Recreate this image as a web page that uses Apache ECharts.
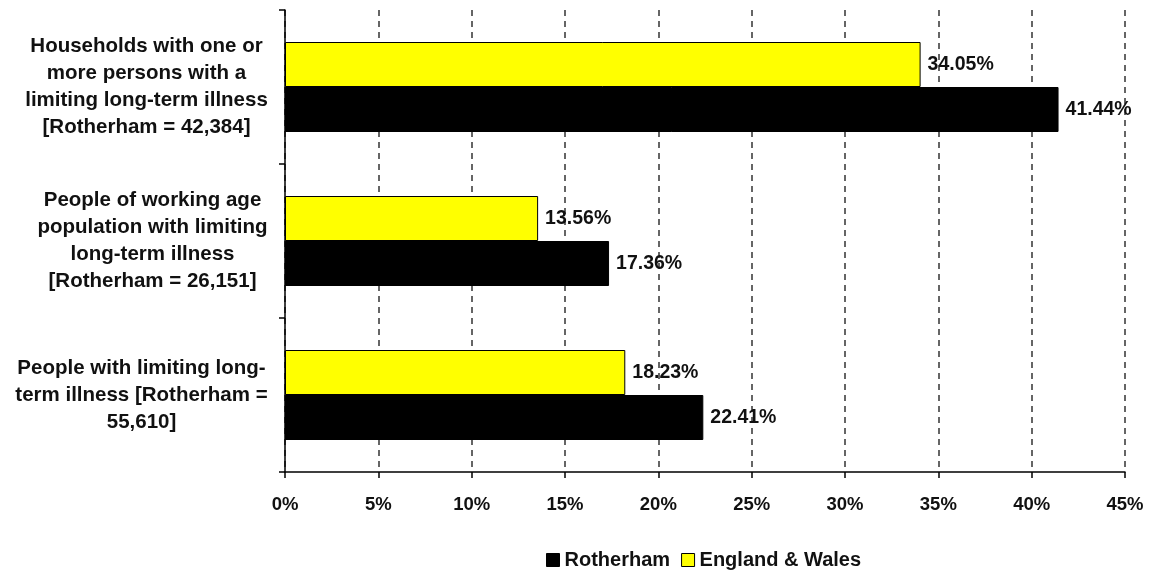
<!DOCTYPE html>
<html>
<head>
<meta charset="utf-8">
<script src="https://cdn.jsdelivr.net/npm/echarts@6/dist/echarts.min.js"></script>
<style>html,body{margin:0;padding:0;background:#fff;}#c{width:1150px;height:571px;}</style>
</head>
<body>
<div id="c"></div>
<script>
const categories = [
  "People with limiting long-\nterm illness [Rotherham =\n55,610]",
  "People of working age\npopulation with limiting\nlong-term illness\n[Rotherham = 26,151]",
  "Households with one or\nmore persons with a\nlimiting long-term illness\n[Rotherham = 42,384]"
];
const rotherham = [22.41, 17.36, 41.44];
const englandWales = [18.23, 13.56, 34.05];
const seriesNames = ["Rotherham", "England & Wales"];
const xTicks = { min: 0, max: 45, interval: 5 };

const FONT = 'Arial, "Liberation Sans", sans-serif';
const catFontSize = 20.5;
const ctx = document.createElement('canvas').getContext('2d');
ctx.font = 'bold ' + catFontSize + 'px ' + FONT;
const rich = {};
categories.forEach((c, i) => {
  const w = Math.max(...c.split('\n').map(l => ctx.measureText(l).width));
  rich['c' + i] = { width: Math.ceil(w), align: 'center', fontSize: catFontSize, fontWeight: 'bold',
    fontFamily: FONT, color: '#111', lineHeight: 27 };
});

const chart = echarts.init(document.getElementById('c'));
const labelCfg = {
  show: true, position: 'right', distance: 7,
  formatter: p => p.value.toFixed(2) + '%',
  fontFamily: FONT, fontWeight: 'bold', fontSize: 19.5, color: '#111'
};
chart.setOption({
  animation: false,
  grid: { left: 285, right: 25, top: 10, bottom: 99, containLabel: false },
  legend: {
    data: [
      { name: seriesNames[0], itemStyle: { color: '#000', borderColor: '#000', borderWidth: 1 } },
      { name: seriesNames[1], itemStyle: { color: '#ffff00', borderColor: '#000', borderWidth: 1 } }
    ],
    left: 541, top: 545, itemWidth: 13, itemHeight: 13, itemGap: 11,
    icon: 'rect',
    textStyle: { fontFamily: FONT, fontWeight: 'bold', fontSize: 20, color: '#111' }
  },
  xAxis: {
    type: 'value', min: xTicks.min, max: xTicks.max, interval: xTicks.interval,
    axisLine: { show: true, lineStyle: { color: '#000', width: 1.5 } },
    axisTick: { show: true, length: 6, lineStyle: { color: '#000', width: 1.5 } },
    axisLabel: { formatter: v => v + '%', fontFamily: FONT, fontWeight: 'bold', fontSize: 18.5, color: '#111', margin: 23 },
    splitLine: { show: true, lineStyle: { color: '#333', width: 1.5, type: [6, 5] } }
  },
  yAxis: {
    type: 'category', data: categories,
    axisLine: { show: true, lineStyle: { color: '#000', width: 1.5 } },
    axisTick: { show: true, length: 6, lineStyle: { color: '#000', width: 1.5 } },
    axisLabel: {
      align: 'right', margin: 17,
      formatter: (v, i) => '{c' + i + '|' + v + '}',
      rich: rich
    },
    splitLine: { show: false }
  },
  series: [
    { name: seriesNames[1], type: 'bar', data: englandWales, barWidth: 45, barGap: '0%',
      itemStyle: { color: '#ffff00', borderColor: '#000', borderWidth: 1 }, label: labelCfg },
    { name: seriesNames[0], type: 'bar', data: rotherham, barWidth: 45, barGap: '0%',
      itemStyle: { color: '#000', borderColor: '#000', borderWidth: 1 }, label: labelCfg }
  ]
});
</script>
</body>
</html>
